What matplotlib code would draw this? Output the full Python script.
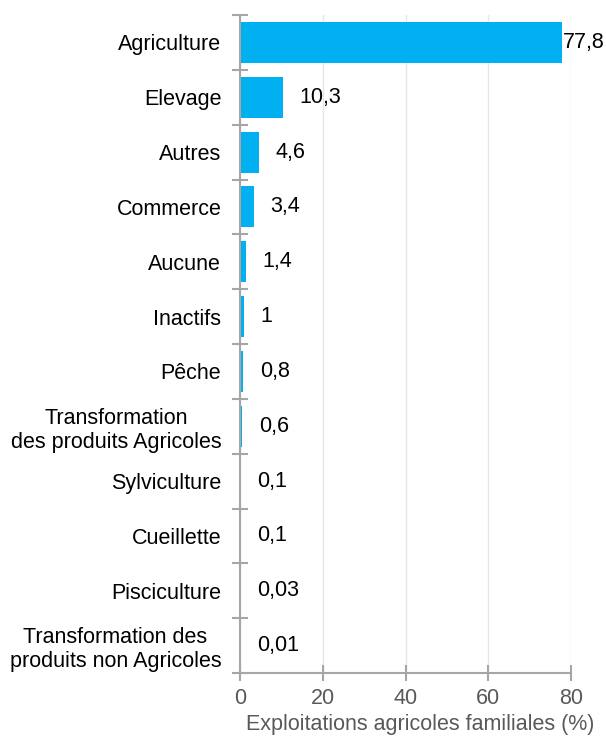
import matplotlib
matplotlib.use("Agg")
import matplotlib.pyplot as plt
import numpy as np

categories = ["Agriculture", "Elevage", "Autres", "Commerce", "Aucune", "Inactifs",
              "Pêche", "Transformation\ndes produits Agricoles", "Sylviculture",
              "Cueillette", "Pisciculture", "Transformation des\nproduits non Agricoles"]
values = [77.8, 10.3, 4.6, 3.4, 1.4, 1.0, 0.8, 0.6, 0.1, 0.1, 0.03, 0.01]
value_labels = ["77,8", "10,3", "4,6", "3,4", "1,4", "1", "0,8", "0,6", "0,1", "0,1", "0,03", "0,01"]
xticks = [0, 20, 40, 60, 80]

plt.rcParams['font.family'] = ['Liberation Sans', 'DejaVu Sans']
FS = 15.5

fig = plt.figure(figsize=(6.06, 7.42), dpi=100)
ax = fig.add_axes([240/606, 1 - 673/742, (571-240)/606, (673-15)/742])

n = len(categories)
y = np.arange(n)
ax.barh(y, values, height=0.75, color="#00B0F0", zorder=3)
ax.set_ylim(n - 0.5, -0.5)
ax.set_xlim(0, 80)

ax.set_yticks(y)
ax.set_yticklabels(categories, fontsize=FS, color="black", ha="right", multialignment="center",
                   linespacing=1.2)
ax.tick_params(axis="y", which="major", length=0, pad=13.5)
ax.set_yticks(np.arange(n + 1) - 0.5, minor=True)
ax.tick_params(axis="y", which="minor", length=12, direction="inout", color="#A6A6A6", width=1.5)

ax.set_xticks(xticks)
ax.set_xticklabels([str(t) for t in xticks], fontsize=FS, color="#595959")
ax.tick_params(axis="x", length=12, direction="inout", color="#A6A6A6", width=1.5, pad=5)
ax.set_xlabel("Exploitations agricoles familiales (%)", fontsize=FS, color="#595959", labelpad=5)
ax.xaxis.set_label_coords(0.544, -0.062)

ax.grid(axis="x", color="#E6E6E6", linewidth=1, zorder=0)
for s in ["top", "right"]:
    ax.spines[s].set_visible(False)
for s in ["left", "bottom"]:
    ax.spines[s].set_color("#A6A6A6")
    ax.spines[s].set_linewidth(1.5)
ax.spines["left"].set_zorder(4)

for yi, v, t in zip(y, values, value_labels):
    off = 1 if v > 70 else 12
    ax.annotate(t, (v, yi), xytext=(off, 0), textcoords="offset points",
                va="center", ha="left", fontsize=FS, color="black")

fig.savefig("out.png", dpi=100)
